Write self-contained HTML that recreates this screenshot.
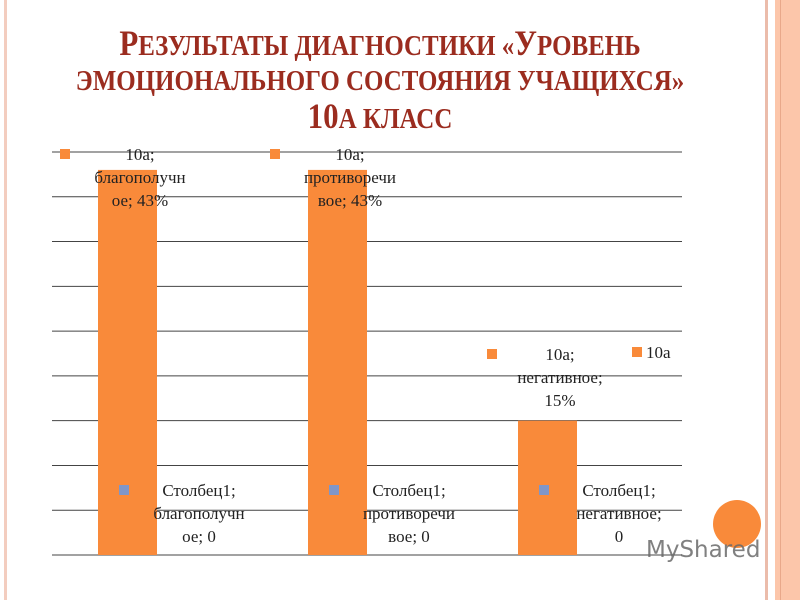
<!DOCTYPE html>
<html><head><meta charset="utf-8"><style>
body{margin:0;width:800px;height:600px;background:#fff;position:relative;overflow:hidden;font-family:"Liberation Serif","DejaVu Serif",serif;}
.title{position:absolute;left:0;width:760px;top:26px;text-align:center;color:#9b2c1f;font-weight:bold;font-size:29px;line-height:35px;font-family:"Liberation Serif",serif;transform:scaleX(0.86);transform-origin:380px 0;}
.title .b{font-size:36px}
</style></head><body>
<div style="position:absolute;left:4px;top:0;width:3px;height:600px;background:#f3cdbf"></div>
<div style="position:absolute;left:765px;top:0;width:3px;height:600px;background:#ebbcab"></div>
<div style="position:absolute;left:775px;top:0;width:25px;height:600px;background:#fcc6aa"></div>
<div style="position:absolute;left:780px;top:0;width:1px;height:600px;background:#e9a88a"></div>
<div class="title"><span class="b">Р</span>ЕЗУЛЬТАТЫ ДИАГНОСТИКИ «<span class="b">У</span>РОВЕНЬ<br>ЭМОЦИОНАЛЬНОГО СОСТОЯНИЯ УЧАЩИХСЯ»<br><span class="b">10</span>А КЛАСС</div>
<svg id="chart" width="800" height="600" style="position:absolute;left:0;top:0"></svg>
<div style="position:absolute;left:713px;top:500px;width:48px;height:48px;border-radius:50%;background:#f98a3a"></div>
<div style="position:absolute;left:646px;top:537px;font-family:'DejaVu Sans',sans-serif;font-size:23px;color:#6a6a6a;opacity:0.85">MyShared</div>
<script>
const categories=["благополучное","противоречивое","негативное"];
const values=[43,43,15];
const series2=[0,0,0];
const ticks=[0,5,10,15,20,25,30,35,40,45];
const labels10a=[["10а;","благополучн","ое; 43%"],["10а;","противоречи","вое; 43%"],["10а;","негативное;","15%"]];
const labelsCol=[["Столбец1;","благополучн","ое; 0"],["Столбец1;","противоречи","вое; 0"],["Столбец1;","негативное;","0"]];
const svg=document.getElementById('chart');
const NS='http://www.w3.org/2000/svg';
const x0=52,x1=682,yB=555,yT=152,vMax=45;
const y=v=>yB-(v/vMax)*(yB-yT);
const band=(x1-x0)/categories.length;
const bx=i=>x0+band*i+46;
function mk(t,a){const e=document.createElementNS(NS,t);for(const k in a)e.setAttribute(k,a[k]);svg.appendChild(e);return e;}
ticks.forEach(t=>{const l=mk('line',{x1:x0,x2:x1,y1:y(t),y2:y(t),stroke:'#444','stroke-width':1});

});
values.forEach((v,i)=>{const r=mk('rect',{x:bx(i),y:y(v),width:59,height:yB-y(v),fill:'#f98a3a'});

});
function lab(lines,cx,ty,mx,color,name){
 const m=mk('rect',{x:mx,y:ty-11,width:10,height:10,fill:color});
 
 
 lines.forEach((s,j)=>{const t=mk('text',{x:cx,y:ty+j*23,'text-anchor':'middle','font-size':17,fill:'#222','font-family':'Liberation Serif, serif'});t.textContent=s;
 
 });
}
values.forEach((v,i)=>{const cx=bx(i)+29+13;const ty=i<2?160:360;lab(labels10a[i],cx,ty,i<2?cx-80:cx-73,'#f98a3a','data-label-10a');});
series2.forEach((v,i)=>{const cx=bx(i)+29+72;lab(labelsCol[i],cx,496,cx-80,'#7f96c8','data-label-stolbec1');});
const lg=mk('rect',{x:632,y:347,width:10,height:10,fill:'#f98a3a'});


const lt=mk('text',{x:646,y:358,'font-size':17,fill:'#222','font-family':'Liberation Serif, serif'});lt.textContent='10а';


</script>
</body></html>
